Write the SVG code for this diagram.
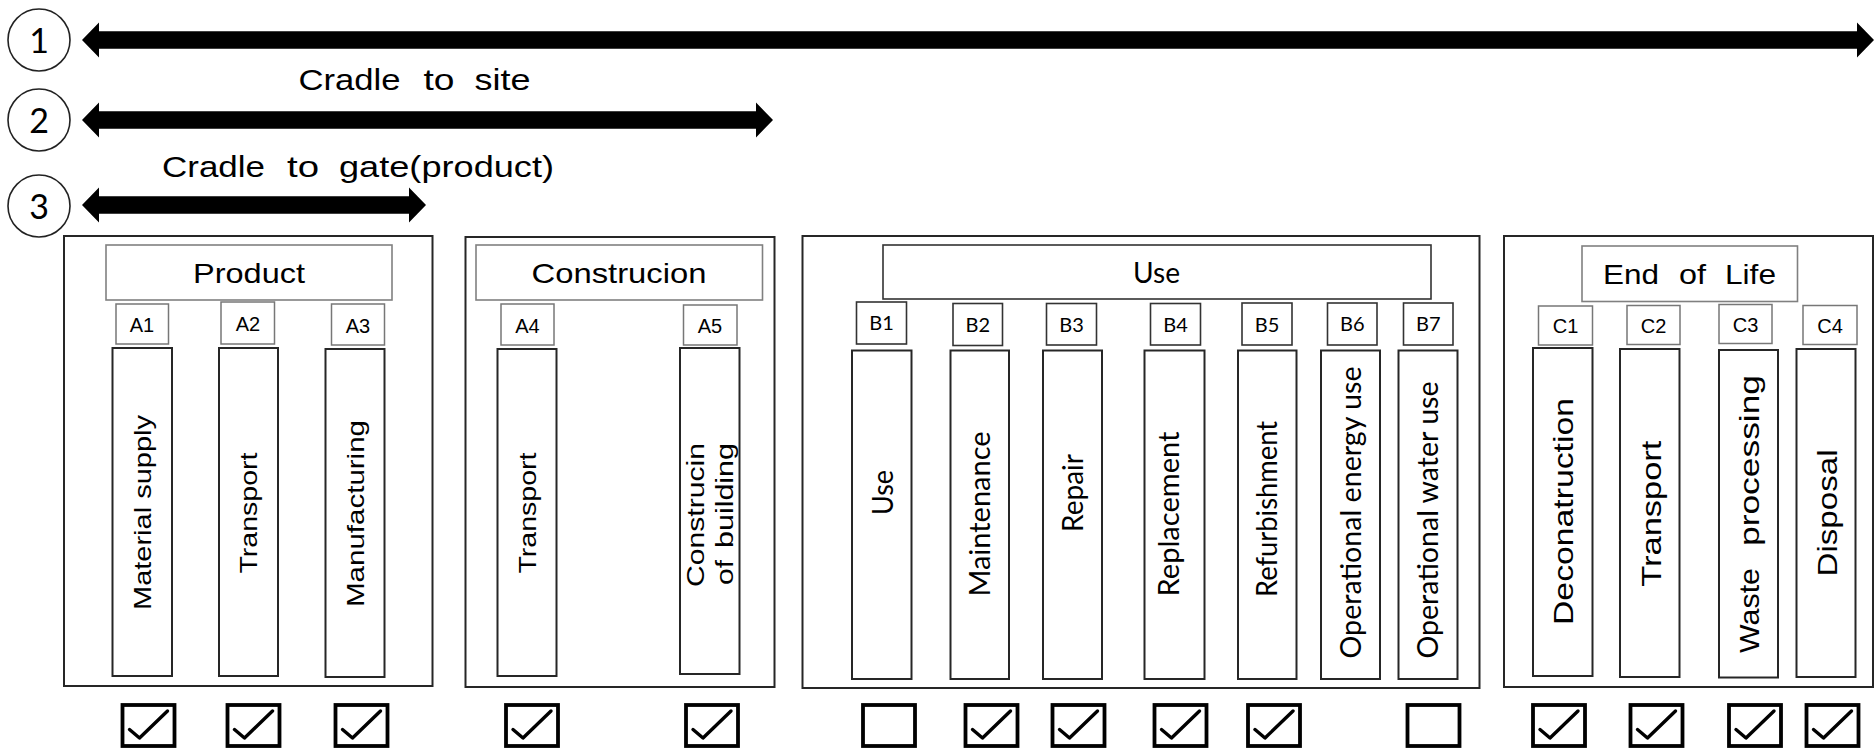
<svg xmlns="http://www.w3.org/2000/svg" width="1874" height="749" viewBox="0 0 1874 749">
<style>
.bg{fill:#fff}
.arrow{fill:#000}
.circ{fill:#fff;stroke:#222;stroke-width:1.6}
.num{font-family:Lato,"Liberation Sans",sans-serif;font-size:34px;fill:#000;text-anchor:middle}
.top{font-family:"Liberation Sans",Arial,sans-serif;font-size:29px;fill:#000}
.outer{fill:#fff;stroke:#262626;stroke-width:2}
.hdr{fill:#fff;stroke:#808080;stroke-width:1.6}
.lblA{fill:#fff;stroke:#777;stroke-width:1.5}
.lblB{fill:#fff;stroke:#333;stroke-width:1.6}
.col{fill:#fff;stroke:#262626;stroke-width:2}
.cb{fill:#fff;stroke:#000;stroke-width:3.8}
.ck{fill:none;stroke:#000;stroke-width:3.4;stroke-linecap:round;stroke-linejoin:round}
.h{font-family:"Liberation Sans",Arial,sans-serif;font-size:28px;fill:#000;text-anchor:middle}
.hl{font-family:Lato,"Liberation Sans",sans-serif;font-size:29px;fill:#000;text-anchor:middle}
.la{font-family:"Liberation Sans",Arial,sans-serif;font-size:20px;fill:#000;text-anchor:middle}
.lb{font-family:Lato,"Liberation Sans",sans-serif;font-size:20px;fill:#000;text-anchor:middle}
.va{font-family:"Liberation Sans",Arial,sans-serif;font-size:24px;fill:#000;text-anchor:middle}
.vas{font-family:"Liberation Sans",Arial,sans-serif;font-size:23px;fill:#000;text-anchor:start}
.vb{font-family:Lato,"Liberation Sans",sans-serif;font-size:29px;fill:#000;text-anchor:middle}
.vc{font-family:"Liberation Sans",Arial,sans-serif;font-size:28px;fill:#000;text-anchor:middle}
.vcs{font-family:"Liberation Sans",Arial,sans-serif;font-size:28px;fill:#000;text-anchor:start}
</style>
<defs>
<g id="cbk"><rect class="cb" x="0" y="0" width="52" height="41"/><path class="ck" d="M7 24.5 L17 33 L45 6"/></g>
<g id="cbe"><rect class="cb" x="0" y="0" width="52" height="41"/></g>
</defs>
<rect class="bg" x="0" y="0" width="1874" height="749"/>

<g id="connectors">
<polygon class="arrow" points="82,40 99,22.5 99,31.3 1857,31.3 1857,22.5 1874,40 1857,57.5 1857,48.7 99,48.7 99,57.5"/>
<polygon class="arrow" points="82,120 99,102.5 99,111.3 756,111.3 756,102.5 773,120 756,137.5 756,128.7 99,128.7 99,137.5"/>
<polygon class="arrow" points="82,205 99,187.5 99,196.3 409,196.3 409,187.5 426,205 409,222.5 409,213.7 99,213.7 99,222.5"/>
</g>

<g id="scope1">
<circle class="circ" cx="39" cy="40" r="31"/>
<text class="num" x="39" y="53">1</text>
</g>
<g id="scope2">
<circle class="circ" cx="39" cy="120" r="31"/>
<text class="num" x="39" y="133">2</text>
<text class="top" y="90"><tspan x="298.5" textLength="102" lengthAdjust="spacingAndGlyphs">Cradle</tspan> <tspan x="423.5" textLength="31" lengthAdjust="spacingAndGlyphs">to</tspan> <tspan x="474.5" textLength="56" lengthAdjust="spacingAndGlyphs">site</tspan></text>
</g>
<g id="scope3">
<circle class="circ" cx="39" cy="206" r="31"/>
<text class="num" x="39" y="219">3</text>
<text class="top" y="177"><tspan x="162" textLength="103" lengthAdjust="spacingAndGlyphs">Cradle</tspan> <tspan x="287" textLength="32" lengthAdjust="spacingAndGlyphs">to</tspan> <tspan x="339" textLength="215" lengthAdjust="spacingAndGlyphs">gate(product)</tspan></text>
</g>

<g id="product">
<rect class="outer" x="64" y="236" width="368.5" height="450"/>
<rect class="hdr" x="106" y="245" width="286" height="55"/>
<text class="h" x="249" y="283" textLength="112" lengthAdjust="spacingAndGlyphs">Product</text>
<rect class="lblA" x="116" y="304" width="52.5" height="40"/>
<text class="la" x="142" y="332">A1</text>
<rect class="lblA" x="221" y="302" width="53.5" height="42"/>
<text class="la" x="248" y="331">A2</text>
<rect class="lblA" x="331.5" y="304" width="53" height="41"/>
<text class="la" x="358" y="333">A3</text>
<rect class="col" x="112.5" y="348" width="59.5" height="328"/>
<text class="va" transform="translate(150.5,512.5) rotate(-90)" textLength="195" lengthAdjust="spacingAndGlyphs">Material supply</text>
<rect class="col" x="219" y="348" width="59" height="328"/>
<text class="va" transform="translate(257,513) rotate(-90)" textLength="121" lengthAdjust="spacingAndGlyphs">Transport</text>
<rect class="col" x="325.5" y="349" width="59" height="328"/>
<text class="va" transform="translate(363.5,513.5) rotate(-90)" textLength="187" lengthAdjust="spacingAndGlyphs">Manufacturing</text>
</g>

<g id="construction">
<rect class="outer" x="465.5" y="237" width="309" height="450"/>
<rect class="hdr" x="476" y="245" width="286.5" height="55"/>
<text class="h" x="619" y="283" textLength="175" lengthAdjust="spacingAndGlyphs">Construcion</text>
<rect class="lblA" x="501" y="304" width="53" height="41"/>
<text class="la" x="527.5" y="333">A4</text>
<rect class="lblA" x="683.5" y="305" width="53.5" height="40"/>
<text class="la" x="710" y="333">A5</text>
<rect class="col" x="497.5" y="349" width="59" height="327"/>
<text class="va" transform="translate(535.5,513) rotate(-90)" textLength="121" lengthAdjust="spacingAndGlyphs">Transport</text>
<rect class="col" x="680" y="348" width="59.5" height="326"/>
<text class="vas" transform="translate(704.3,587) rotate(-90)" textLength="144" lengthAdjust="spacingAndGlyphs">Construcin</text>
<text class="vas" transform="translate(733.3,585) rotate(-90)"><tspan textLength="25" lengthAdjust="spacingAndGlyphs">of</tspan><tspan x="37" textLength="105" lengthAdjust="spacingAndGlyphs">building</tspan></text>
</g>

<g id="use">
<rect class="outer" x="802.5" y="236" width="677" height="452"/>
<rect class="lblB" x="883" y="245" width="548" height="54"/>
<text class="hl" x="1156.5" y="283" textLength="47" lengthAdjust="spacingAndGlyphs">Use</text>
<rect class="lblB" x="856.5" y="302" width="50" height="42"/>
<text class="lb" x="881.5" y="330">B1</text>
<rect class="lblB" x="953" y="303.5" width="49.5" height="42"/>
<text class="lb" x="977.8" y="332">B2</text>
<rect class="lblB" x="1046.5" y="303.5" width="50" height="41.5"/>
<text class="lb" x="1071.5" y="331.5">B3</text>
<rect class="lblB" x="1150.5" y="303.5" width="50" height="41.5"/>
<text class="lb" x="1175.5" y="331.5">B4</text>
<rect class="lblB" x="1242" y="303" width="50" height="42"/>
<text class="lb" x="1267" y="331.5">B5</text>
<rect class="lblB" x="1327.5" y="303" width="49.5" height="42"/>
<text class="lb" x="1352.3" y="331">B6</text>
<rect class="lblB" x="1403.5" y="303" width="49.5" height="42"/>
<text class="lb" x="1428.3" y="331">B7</text>
<rect class="col" x="852" y="350.5" width="59.5" height="328.5"/>
<text class="vb" transform="translate(893,492.5) rotate(-90)" textLength="45" lengthAdjust="spacingAndGlyphs">Use</text>
<rect class="col" x="950.5" y="350.5" width="58.5" height="328.5"/>
<text class="vb" transform="translate(989.5,514) rotate(-90)" textLength="165" lengthAdjust="spacingAndGlyphs">Maintenance</text>
<rect class="col" x="1043" y="350.5" width="59" height="328.5"/>
<text class="vb" transform="translate(1082.5,493) rotate(-90)" textLength="78" lengthAdjust="spacingAndGlyphs">Repair</text>
<rect class="col" x="1144.5" y="350.5" width="60" height="328.5"/>
<text class="vb" transform="translate(1178.5,514) rotate(-90)" textLength="165" lengthAdjust="spacingAndGlyphs">Replacement</text>
<rect class="col" x="1238" y="350.5" width="58.5" height="328.5"/>
<text class="vb" transform="translate(1276.5,509) rotate(-90)" textLength="176" lengthAdjust="spacingAndGlyphs">Refurbishment</text>
<rect class="col" x="1321" y="350.5" width="59" height="328.5"/>
<text class="vb" transform="translate(1361,512.5) rotate(-90)" textLength="292" lengthAdjust="spacingAndGlyphs">Operational energy use</text>
<rect class="col" x="1398.5" y="350.5" width="59" height="328.5"/>
<text class="vb" transform="translate(1437.5,520) rotate(-90)" textLength="277" lengthAdjust="spacingAndGlyphs">Operational water use</text>
</g>

<g id="end-of-life">
<rect class="outer" x="1504" y="236" width="369" height="451"/>
<rect class="hdr" x="1582" y="246" width="215.5" height="55.5"/>
<text class="h" y="284" style="text-anchor:start"><tspan x="1603" textLength="56" lengthAdjust="spacingAndGlyphs">End</tspan> <tspan x="1679" textLength="27" lengthAdjust="spacingAndGlyphs">of</tspan> <tspan x="1725" textLength="51" lengthAdjust="spacingAndGlyphs">Life</tspan></text>
<rect class="lblA" x="1538.5" y="306" width="54" height="39"/>
<text class="la" x="1565.5" y="333">C1</text>
<rect class="lblA" x="1627" y="305.5" width="53" height="39"/>
<text class="la" x="1653.5" y="333">C2</text>
<rect class="lblA" x="1719" y="304.5" width="53" height="39"/>
<text class="la" x="1745.5" y="332">C3</text>
<rect class="lblA" x="1803" y="305.5" width="54" height="39"/>
<text class="la" x="1830" y="333">C4</text>
<rect class="col" x="1533" y="348" width="59.5" height="328"/>
<text class="vc" transform="translate(1573.3,511.5) rotate(-90)" textLength="227" lengthAdjust="spacingAndGlyphs">Deconatruction</text>
<rect class="col" x="1620" y="349" width="59.5" height="328"/>
<text class="vc" transform="translate(1660.5,513.7) rotate(-90)" textLength="146" lengthAdjust="spacingAndGlyphs">Transport</text>
<rect class="col" x="1719" y="350" width="59" height="327.5"/>
<text class="vcs" transform="translate(1758.5,514) rotate(-90)"><tspan x="-139" textLength="85" lengthAdjust="spacingAndGlyphs">Waste</tspan><tspan x="-32" textLength="171" lengthAdjust="spacingAndGlyphs">processing</tspan></text>
<rect class="col" x="1796.5" y="349" width="59" height="328"/>
<text class="vc" transform="translate(1836.5,513) rotate(-90)" textLength="127" lengthAdjust="spacingAndGlyphs">Disposal</text>
</g>

<g id="checkboxes">
<use href="#cbk" x="122.5" y="705"/>
<use href="#cbk" x="227.5" y="705"/>
<use href="#cbk" x="335.5" y="705"/>
<use href="#cbk" x="506" y="705"/>
<use href="#cbk" x="686" y="705"/>
<use href="#cbe" x="863" y="705"/>
<use href="#cbk" x="965.5" y="705"/>
<use href="#cbk" x="1052.5" y="705"/>
<use href="#cbk" x="1154.5" y="705"/>
<use href="#cbk" x="1248" y="705"/>
<use href="#cbe" x="1407.5" y="705"/>
<use href="#cbk" x="1533" y="705"/>
<use href="#cbk" x="1630.5" y="705"/>
<use href="#cbk" x="1729" y="705"/>
<use href="#cbk" x="1806.5" y="705"/>
</g>
</svg>
